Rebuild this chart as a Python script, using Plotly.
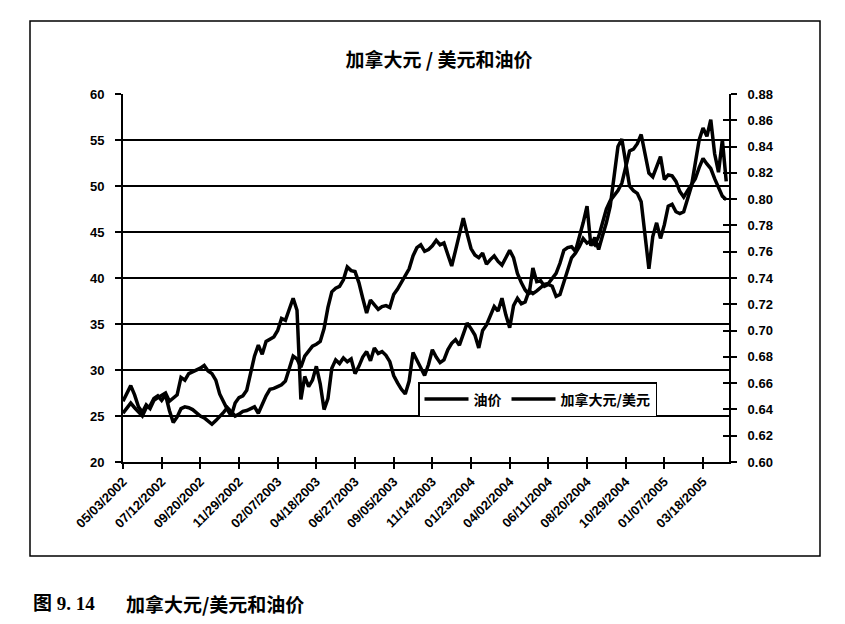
import plotly.graph_objects as go
import pandas as pd

# ---------------- data (weekly, first week 05/03/2002) ----------------
start_date = "2002-05-03"

oil_price = [
    26.6, 27.4, 28.3, 27.3, 26.0, 25.4, 26.2, 25.8, 26.7, 27.0,
    27.3, 27.5, 26.6, 27.0, 27.3, 29.2, 28.9, 29.6, 29.8, 29.9,
    30.2, 30.5, 29.9, 29.6, 28.9, 27.4, 26.5, 25.7, 25.0, 26.4,
    27.0, 27.2, 27.8, 29.6, 31.5, 32.7, 31.7, 33.1, 33.4, 33.6,
    34.3, 35.6, 35.4, 36.7, 37.8, 36.5, 26.8, 29.3, 28.2, 28.9,
    30.4, 28.5, 25.7, 26.9, 30.2, 31.1, 30.7, 31.3, 30.9, 31.2,
    29.6, 30.4, 31.4, 32.0, 31.0, 32.4, 31.8, 32.0, 31.6, 30.9,
    29.4, 28.6, 27.9, 27.4, 28.8, 31.9, 31.0, 30.2, 29.4, 30.6,
    32.2, 31.4, 30.8, 31.1, 32.2, 32.9, 33.3, 32.7, 33.9, 35.1,
    34.5, 33.8, 32.4, 34.3, 34.9, 35.8, 36.9, 36.4, 37.8, 36.0,
    34.6, 37.0, 37.8, 37.2, 37.4, 38.6, 38.3, 38.6, 39.0, 39.3,
    39.4, 39.9, 40.5, 41.6, 43.0, 43.3, 43.4, 42.9, 44.3, 46.0,
    47.8, 43.5, 44.4, 43.1, 44.6, 46.0, 47.8, 51.0, 54.3, 55.1,
    52.5, 50.0, 49.5, 49.2, 48.3, 44.5, 41.0, 44.5, 46.0, 44.3,
    45.8, 47.8, 48.0, 47.2, 47.0, 47.2, 48.5, 50.0, 52.5, 55.0,
    56.3, 55.4, 57.2, 53.5, 51.5, 55.0, 50.5,
]

cad_usd = [
    0.6371, 0.6406, 0.6448, 0.6413, 0.6378, 0.6350, 0.6413, 0.6427, 0.6483, 0.6504,
    0.6469, 0.6511, 0.6392, 0.6301, 0.6343, 0.6406, 0.6420, 0.6413, 0.6399, 0.6371,
    0.6350, 0.6336, 0.6308, 0.6287, 0.6315, 0.6343, 0.6378, 0.6413, 0.6378, 0.6350,
    0.6364, 0.6385, 0.6392, 0.6406, 0.6420, 0.6371, 0.6441, 0.6504, 0.6553, 0.6560,
    0.6574, 0.6588, 0.6616, 0.6714, 0.6805, 0.6784, 0.6721, 0.6805, 0.6847, 0.6882,
    0.6896, 0.6917, 0.7015, 0.7176, 0.7295, 0.7323, 0.7337, 0.7386, 0.7484, 0.7456,
    0.7449, 0.7365, 0.7246, 0.7134, 0.7232, 0.7197, 0.7162, 0.7183, 0.7190, 0.7176,
    0.7274, 0.7316, 0.7365, 0.7421, 0.7470, 0.7568, 0.7631, 0.7652, 0.7603, 0.7617,
    0.7645, 0.7687, 0.7652, 0.7666, 0.7575, 0.7491, 0.7610, 0.7722, 0.7855, 0.7736,
    0.7624, 0.7575, 0.7554, 0.7589, 0.7505, 0.7540, 0.7568, 0.7526, 0.7498, 0.7554,
    0.7610, 0.7554, 0.7435, 0.7365, 0.7309, 0.7274, 0.7477, 0.7372, 0.7379, 0.7337,
    0.7351, 0.7337, 0.7260, 0.7274, 0.7365, 0.7470, 0.7554, 0.7589, 0.7638, 0.7701,
    0.7666, 0.7680, 0.7652, 0.7715, 0.7820, 0.7925, 0.7988, 0.8023, 0.8065, 0.8121,
    0.8240, 0.8366, 0.8380, 0.8422, 0.8492, 0.8345, 0.8198, 0.8170, 0.8247, 0.8324,
    0.8149, 0.8184, 0.8177, 0.8135, 0.8058, 0.8016, 0.8065, 0.8114, 0.8156, 0.8240,
    0.8310, 0.8268, 0.8233, 0.8156, 0.8086, 0.8023, 0.7995,
]

tick_labels = [
    "05/03/2002", "07/12/2002", "09/20/2002", "11/29/2002", "02/07/2003",
    "04/18/2003", "06/27/2003", "09/05/2003", "11/14/2003", "01/23/2004",
    "04/02/2004", "06/11/2004", "08/20/2004", "10/29/2004", "01/07/2005",
    "03/18/2005",
]
x_range = ["2002-05-03", "2005-05-04"]

title_text = "加拿大元 / 美元和油价"
oil_name = "油价"
cad_name = "加拿大元/美元"
caption_num = "图 9. 14"
caption_text = "加拿大元/美元和油价"

# ---------------- figure ----------------
dates = pd.date_range(start_date, periods=len(oil_price), freq="7D")
tick_dates = pd.to_datetime(tick_labels, format="%m/%d/%Y")

LAT = "Liberation Sans, Arial, Noto Sans CJK SC, sans-serif"
CJK = "Noto Sans CJK SC, Liberation Sans, sans-serif"

W, H = 845, 624
OFF = 8  # page offset of the plot div inside the browser window
# plot area in window pixels
PX0, PX1, PY0, PY1 = 123, 729, 94, 462
L = PX0 - OFF
T = PY0 - OFF
pw, ph = PX1 - PX0, PY1 - PY0
R = W - L - pw
B = H - T - ph


def px_x(p):
    return (p - PX0) / pw


def px_y(p):
    return (PY1 - p) / ph


fig = go.Figure()
fig.add_trace(go.Scatter(x=dates, y=oil_price, name=oil_name, mode="lines",
                         line=dict(color="black", width=3.5), xaxis="x", yaxis="y"))
fig.add_trace(go.Scatter(x=dates, y=cad_usd, name=cad_name, mode="lines",
                         line=dict(color="black", width=3.5), xaxis="x", yaxis="y2"))
# helper traces to register overlay axes (for crossing tick marks)
fig.add_trace(go.Scatter(x=[None], y=[None], xaxis="x2", yaxis="y",
                         showlegend=False, hoverinfo="skip"))
fig.add_trace(go.Scatter(x=[None], y=[None], xaxis="x", yaxis="y3",
                         showlegend=False, hoverinfo="skip"))

fig.update_layout(
    width=W, height=H,
    margin=dict(l=L, r=R, t=T, b=B, autoexpand=False),
    paper_bgcolor="white", plot_bgcolor="white",
    font=dict(family=LAT, color="black"),
    title=dict(text=title_text, x=(439 - OFF) / W, xanchor="center",
               y=1 - (60 - OFF) / H, yanchor="middle",
               font=dict(family=CJK, size=19, weight="bold", color="black")),
    xaxis=dict(type="date", range=x_range, tickvals=tick_dates, ticktext=tick_labels,
               tickangle=-45, tickfont=dict(family=LAT, size=13, weight="bold"),
               showgrid=False, zeroline=False, showline=True, linecolor="black",
               linewidth=2, ticks="outside", ticklen=5, tickwidth=1.5,
               tickcolor="black", automargin=False),
    xaxis2=dict(type="date", range=x_range, tickvals=tick_dates, overlaying="x",
                anchor="y", side="bottom", showticklabels=False, showgrid=False,
                zeroline=False, showline=False, ticks="inside", ticklen=5,
                tickwidth=1.5, tickcolor="black"),
    yaxis=dict(range=[20, 60], dtick=5, tick0=20,
               tickfont=dict(family=LAT, size=13, weight="bold"),
               showgrid=True, gridcolor="black", gridwidth=1.5,
               zeroline=False, showline=True, linecolor="black", linewidth=2,
               ticks="outside", ticklen=6, tickwidth=1.5, tickcolor="black",
               ticklabelstandoff=8, automargin=False),
    yaxis2=dict(range=[0.60, 0.88], dtick=0.02, tick0=0.60, tickformat=".2f",
                overlaying="y", side="right", anchor="x",
                tickfont=dict(family=LAT, size=13, weight="bold"),
                showgrid=False, zeroline=False, showline=True, linecolor="black",
                linewidth=2, ticks="outside", ticklen=6, tickwidth=1.5,
                tickcolor="black", ticklabelstandoff=8, automargin=False),
    yaxis3=dict(range=[0.60, 0.88], dtick=0.02, tick0=0.60, overlaying="y",
                side="right", anchor="x", showticklabels=False, showgrid=False,
                zeroline=False, showline=False, ticks="inside", ticklen=6,
                tickwidth=1.5, tickcolor="black"),
    legend=dict(orientation="h", x=px_x(418), xanchor="left",
                y=px_y(382), yanchor="top",
                bgcolor="white", bordercolor="black", borderwidth=1.5,
                font=dict(family=CJK, size=14, weight="bold", color="black"),
                itemwidth=44, tracegroupgap=0),
    showlegend=True,
    shapes=[dict(type="rect", xref="paper", yref="paper",
                 x0=px_x(30), x1=px_x(820), y0=px_y(556), y1=px_y(21),
                 line=dict(color="black", width=1.5), fillcolor="rgba(0,0,0,0)",
                 layer="below")],
    annotations=[
        dict(text=caption_num, xref="paper", yref="paper", x=px_x(31), y=px_y(603),
             xanchor="left", yanchor="middle", showarrow=False,
             font=dict(family="Liberation Serif, Noto Sans CJK SC, serif", size=19,
                       weight="bold", color="black")),
        dict(text=caption_text, xref="paper", yref="paper", x=px_x(124), y=px_y(603),
             xanchor="left", yanchor="middle", showarrow=False,
             font=dict(family="Noto Sans CJK SC, serif", size=19,
                       weight="bold", color="black")),
    ],
)

fig.write_html("out.html")
